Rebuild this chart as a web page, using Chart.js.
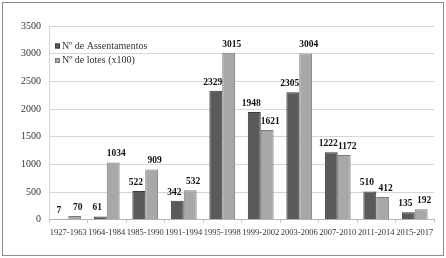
<!DOCTYPE html>
<html>
<head>
<meta charset="utf-8">
<script src="https://cdn.jsdelivr.net/npm/chart.js@4.4.1/dist/chart.umd.min.js"></script>
<style>
  html, body { margin: 0; padding: 0; background: #fff; }
  #wrap { width: 446px; height: 258px; }
</style>
</head>
<body>
<div id="wrap"><canvas id="chart" width="446" height="258"></canvas></div>
<script>
const periods = ['1927-1963', '1964-1984', '1985-1990', '1991-1994', '1995-1998',
  '1999-2002', '2003-2006', '2007-2010', '2011-2014', '2015-2017'];
const assentamentos = [7, 61, 522, 342, 2329, 1948, 2305, 1222, 510, 135];
const lotes = [70, 1034, 909, 532, 3015, 1621, 3004, 1172, 412, 192];
const seriesNames = ['Nº de Assentamentos', 'Nº de lotes (x100)'];

const serif = "'Liberation Serif', 'DejaVu Serif', serif";

// white page and the thin grey frame round the whole picture
const frame = {
  id: 'frame',
  beforeDraw(chart) {
    const c = chart.ctx;
    c.save();
    c.fillStyle = '#fff';
    c.fillRect(0, 0, chart.width, chart.height);
    c.strokeStyle = '#8c8c8c';
    c.lineWidth = 1;
    c.strokeRect(2.5, 2.5, 441, 253);
    c.restore();
  }
};

// value labels above every bar; the pair is nudged apart a little, as in the original
const barLabels = {
  id: 'barLabels',
  afterDatasetsDraw(chart) {
    const c = chart.ctx;
    c.save();
    c.font = 'bold 9.5px ' + serif;
    c.fillStyle = '#111';
    c.textAlign = 'center';
    c.textBaseline = 'bottom';
    chart.data.datasets.forEach(function(ds, i) {
      const nudge = i === 0 ? -3 : 3;
      chart.getDatasetMeta(i).data.forEach(function(bar, j) {
        c.fillText(ds.data[j], bar.x + nudge, bar.y - 4);
      });
    });
    c.restore();
  }
};

// legend sitting inside the plot, top-left
const insideLegend = {
  id: 'insideLegend',
  afterDraw(chart) {
    const c = chart.ctx;
    const area = chart.chartArea;
    c.save();
    c.font = '10px ' + serif;
    c.textBaseline = 'middle';
    chart.data.datasets.forEach(function(ds, i) {
      const y = area.top + 20 + i * 14.5;
      const x = area.left + 6;
      c.fillStyle = ds.backgroundColor;
      c.fillRect(x, y - 2.5, 5, 5);
      c.strokeStyle = ds.borderColor;
      c.lineWidth = 1;
      c.strokeRect(x + 0.5, y - 2, 4, 4);
      c.fillStyle = '#333';
      c.fillText(ds.label, x + 7, y);
    });
    c.restore();
  }
};

new Chart(document.getElementById('chart').getContext('2d'), {
  type: 'bar',
  data: {
    labels: periods,
    datasets: [
      {
        label: seriesNames[0],
        data: assentamentos,
        backgroundColor: '#5a5a5a',
        borderColor: '#3a3a3a',
        borderWidth: 1
      },
      {
        label: seriesNames[1],
        data: lotes,
        backgroundColor: '#a8a8a8',
        borderColor: '#7a7a7a',
        borderWidth: 1
      }
    ]
  },
  options: {
    responsive: false,
    animation: false,
    layout: {
      padding: { left: 13, right: 12, top: 26, bottom: 15 }
    },
    datasets: {
      bar: { categoryPercentage: 0.67, barPercentage: 1.0 }
    },
    scales: {
      x: {
        grid: {
          offset: true,
          drawOnChartArea: false,
          tickLength: 3,
          color: '#c4c4c4'
        },
        border: { color: '#b5b5b5' },
        ticks: {
          color: '#333',
          padding: 5,
          maxRotation: 0,
          autoSkip: false,
          font: { family: serif, size: 8.5 }
        }
      },
      y: {
        min: 0,
        max: 3500,
        grid: { color: '#d6d6d6', drawTicks: false },
        border: { color: '#d6d6d6' },
        ticks: {
          stepSize: 500,
          color: '#333',
          padding: 8,
          font: { family: serif, size: 10 },
          callback: function(v) { return String(v); }
        }
      }
    },
    plugins: {
      legend: { display: false },
      tooltip: { enabled: false }
    }
  },
  plugins: [frame, barLabels, insideLegend]
});
</script>
</body>
</html>
